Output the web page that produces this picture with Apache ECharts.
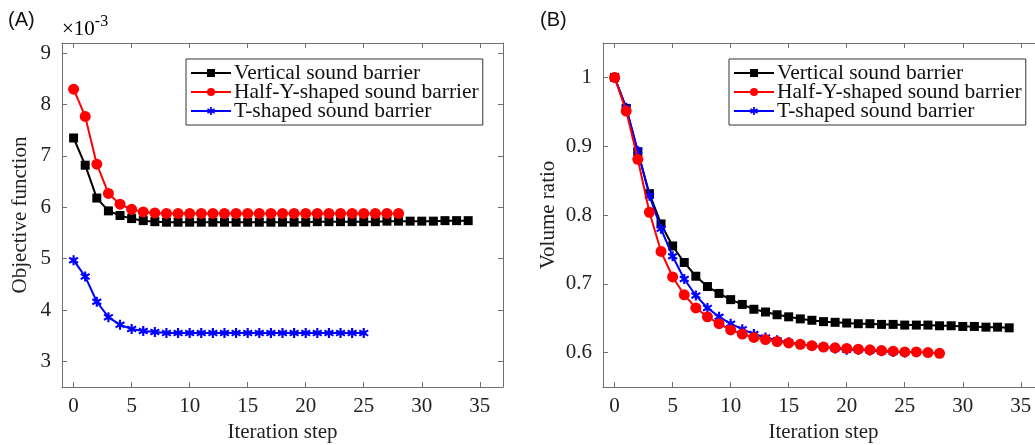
<!DOCTYPE html>
<html><head><meta charset="utf-8">
<script src="https://cdn.jsdelivr.net/npm/echarts@6/dist/echarts.min.js"></script>
<style>html,body{margin:0;padding:0;background:#fff;overflow:hidden}#c{width:1035px;height:445px}</style>
</head><body><div id="c"></div>
<script>
const seriesNames = ['Vertical sound barrier','Half-Y-shaped sound barrier','T-shaped sound barrier'];
const xTicks = [0,5,10,15,20,25,30,35];
const yTicksA = [3,4,5,6,7,8,9];
const yTicksB = [0.6,0.7,0.8,0.9,1.0];
// (A) objective function (x10^-3)
const objVertical = [7.35,6.82,6.18,5.93,5.84,5.78,5.74,5.72,5.71,5.71,5.71,5.71,5.71,5.71,5.71,5.71,5.71,5.71,5.71,5.71,5.71,5.72,5.72,5.72,5.72,5.72,5.72,5.73,5.73,5.73,5.73,5.73,5.74,5.74,5.74];
const objHalfY = [8.30,7.77,6.84,6.27,6.06,5.96,5.91,5.89,5.88,5.88,5.88,5.88,5.88,5.88,5.88,5.88,5.88,5.88,5.88,5.88,5.88,5.88,5.88,5.88,5.88,5.88,5.88,5.88,5.88];
const objT = [4.97,4.65,4.16,3.86,3.71,3.63,3.59,3.57,3.55,3.55,3.55,3.55,3.55,3.55,3.55,3.55,3.55,3.55,3.55,3.55,3.55,3.55,3.55,3.55,3.55,3.55];
// (B) volume ratio
const volVertical = [1.0,0.955,0.892,0.831,0.787,0.755,0.731,0.711,0.696,0.686,0.677,0.670,0.663,0.659,0.655,0.652,0.649,0.647,0.645,0.644,0.643,0.642,0.642,0.641,0.641,0.640,0.640,0.640,0.639,0.639,0.638,0.638,0.637,0.637,0.636];
const volHalfY = [1.0,0.951,0.881,0.804,0.747,0.710,0.684,0.665,0.652,0.642,0.633,0.627,0.622,0.619,0.616,0.614,0.612,0.610,0.608,0.607,0.606,0.605,0.604,0.603,0.602,0.601,0.601,0.600,0.599];
const volT = [1.0,0.956,0.893,0.828,0.780,0.740,0.707,0.683,0.665,0.652,0.642,0.634,0.627,0.622,0.618,0.615,0.612,0.610,0.608,0.606,0.604,0.604,0.603,0.602,0.601,0.600];

const FONT = 'Liberation Serif';
const AX = '#707070';
const colors = ['#000000','#ff0000','#0000ff'];
const star = 'path://M40,0 L60,0 L60,30 L86,15 L96,32 L70,50 L96,68 L86,85 L60,70 L60,100 L40,100 L40,70 L14,85 L4,68 L30,50 L4,32 L14,15 L40,30 Z';
const symbols = ['rect','circle',star];
const symSizes = [9,11,10];

function pairs(arr){ return arr.map((v,i)=>[i,v]); }

function xAxes(gi){
  const base = {gridIndex:gi,type:'value',min:-1,max:37,splitLine:{show:false},
    axisLine:{show:true,onZero:false,lineStyle:{color:AX,width:1}},
    axisTick:{show:true,inside:true,length:5,customValues:xTicks,lineStyle:{color:AX}}};
  return [
    Object.assign({},base,{position:'bottom',
      axisLabel:{customValues:xTicks,fontFamily:FONT,fontSize:21,color:'#222',margin:9},
      name:'Iteration step',nameLocation:'middle',nameGap:35,nameTextStyle:{fontFamily:FONT,fontSize:21,color:'#222'}}),
    Object.assign({},base,{position:'top',axisLabel:{show:false}})
  ];
}
function yAxes(gi,min,max,ticks,name,gap,fmt,showRight){
  const base = {gridIndex:gi,type:'value',min:min,max:max,splitLine:{show:false},
    axisLine:{show:true,onZero:false,lineStyle:{color:AX,width:1}},
    axisTick:{show:true,inside:true,length:5,customValues:ticks,lineStyle:{color:AX}}};
  return [
    Object.assign({},base,{position:'left',
      axisLabel:{customValues:ticks,fontFamily:FONT,fontSize:21,color:'#222',margin:11,formatter:fmt},
      name:name,nameLocation:'middle',nameGap:gap,nameTextStyle:{fontFamily:FONT,fontSize:21,color:'#222'}}),
    Object.assign({},base,{position:'right',show:showRight,axisLabel:{show:false}})
  ];
}

const dataA = [objVertical,objHalfY,objT];
const dataB = [volVertical,volHalfY,volT];
const series = [];
[dataA,dataB].forEach((set,g)=>{
  set.forEach((arr,k)=>{
    series.push({name:seriesNames[k],type:'line',xAxisIndex:g*2,yAxisIndex:g*2,
      data:pairs(arr),symbol:symbols[k],symbolSize:symSizes[k],showSymbol:true,
      lineStyle:{color:colors[k],width:2},itemStyle:{color:colors[k]},
      z: g===1 ? [2,4,3][k] : 2, animation:false});
  });
});

function legend(left){
  return {orient:'vertical',left:left,top:59,data:seriesNames,itemGap:-3,itemWidth:40,itemHeight:10,
    padding:[3,4,3,4],borderColor:'#333',borderWidth:1,backgroundColor:'#fff',
    textStyle:{fontFamily:FONT,fontSize:21.5,color:'#111',padding:[0,0,0,-2]},selectedMode:false};
}

const chart = echarts.init(document.getElementById('c'),null,{renderer:'canvas'});
chart.setOption({
  animation:false,
  grid:[{left:62,top:43,width:441,height:344,outerBoundsMode:'none'},{left:603,top:43,width:441,height:344,outerBoundsMode:'none'}],
  xAxis:[...xAxes(0),...xAxes(1)],
  yAxis:[...yAxes(0,2.5,9.2,yTicksA,'Objective function',31,v=>String(v),true),
         ...yAxes(1,0.55,1.05,yTicksB,'Volume ratio',44,v=>String(Math.round(v*10)/10),false)],
  legend:[legend(186),legend(729)],
  series:series,
  graphic:[
    {type:'text',left:8,top:10,style:{text:'(A)',font:'20px "Liberation Sans"',fill:'#111'}},
    {type:'text',left:540,top:10,style:{text:'(B)',font:'20px "Liberation Sans"',fill:'#111'}},
    {type:'text',left:62,top:14,style:{text:'{a|×10}{b|-3}',rich:{a:{fontFamily:FONT,fontSize:21,color:'#222'},b:{fontFamily:FONT,fontSize:16,color:'#222',padding:[0,0,14,0]}}}}
  ]
});
</script></body></html>
